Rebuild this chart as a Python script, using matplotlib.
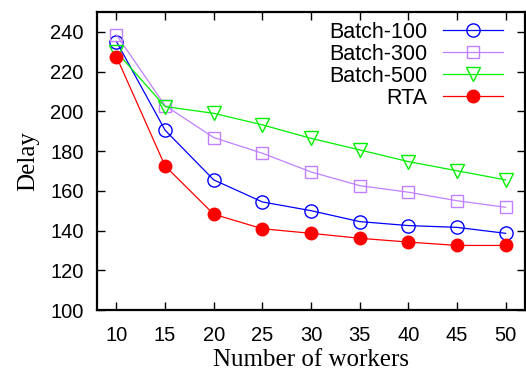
import matplotlib
matplotlib.use("Agg")
import matplotlib.pyplot as plt

workers = [10, 15, 20, 25, 30, 35, 40, 45, 50]
batch100 = [235.1, 190.5, 165.5, 154.4, 150.0, 144.5, 142.5, 141.6, 138.6]
batch300 = [238.5, 202.9, 186.8, 178.9, 169.5, 162.6, 159.3, 155.0, 151.7]
batch500 = [230.0, 202.4, 199.0, 193.2, 186.4, 180.6, 174.7, 170.1, 165.5]
rta = [227.5, 172.5, 148.2, 140.9, 138.6, 136.1, 134.2, 132.5, 132.5]
labels = ["Batch-100", "Batch-300", "Batch-500", "RTA"]
xticks = [10, 15, 20, 25, 30, 35, 40, 45, 50]
yticks = [100, 120, 140, 160, 180, 200, 220, 240]

fig = plt.figure(figsize=(5.26, 3.74), dpi=100)
ax = fig.add_axes([97/526, 64/374, 428/526, 298/374])

sans = ["Liberation Sans", "DejaVu Sans"]
serif = ["Liberation Serif", "DejaVu Serif"]

ax.plot(workers, batch100, color="#0000ff", lw=0.9, marker="o", ms=9.5,
        mfc="none", mec="#0000ff", mew=1.0, label=labels[0])
ax.plot(workers, batch300, color="#c080ff", lw=0.9, marker="s", ms=9,
        mfc="none", mec="#c080ff", mew=1.0, label=labels[1])
ax.plot(workers, batch500, color="#00f000", lw=0.9, marker="v", ms=9.5,
        mfc="none", mec="#00f000", mew=1.0, label=labels[2])
ax.plot(workers, rta, color="#ff0000", lw=0.9, marker="o", ms=9,
        mfc="#ff0000", mec="#ff0000", label=labels[3])

ax.set_xlim(8, 52)
ax.set_ylim(100, 250)
ax.set_xticks(xticks)
ax.set_yticks(yticks)
ax.tick_params(direction="in", length=6, width=1, top=True, right=True,
               labelsize=14.5)
ax.tick_params(axis="x", pad=11.5)
ax.tick_params(axis="y", pad=9.5)
for lab in ax.get_xticklabels() + ax.get_yticklabels():
    lab.set_family(sans)
for s in ax.spines.values():
    s.set_linewidth(1.6)

ax.set_xlabel("Number of workers", family=serif, fontsize=18, labelpad=3)
ax.set_ylabel("Delay", family=serif, fontsize=18, labelpad=8)

leg = ax.legend(loc="upper right", markerfirst=False, frameon=False,
                prop={"family": sans, "size": 15.5}, handlelength=2.8,
                labelspacing=0.05, borderaxespad=0.0, borderpad=0.0,
                handletextpad=0.7,
                bbox_to_anchor=((503 - 97) / 428, 0.968))

fig.savefig("out.png", dpi=100)
